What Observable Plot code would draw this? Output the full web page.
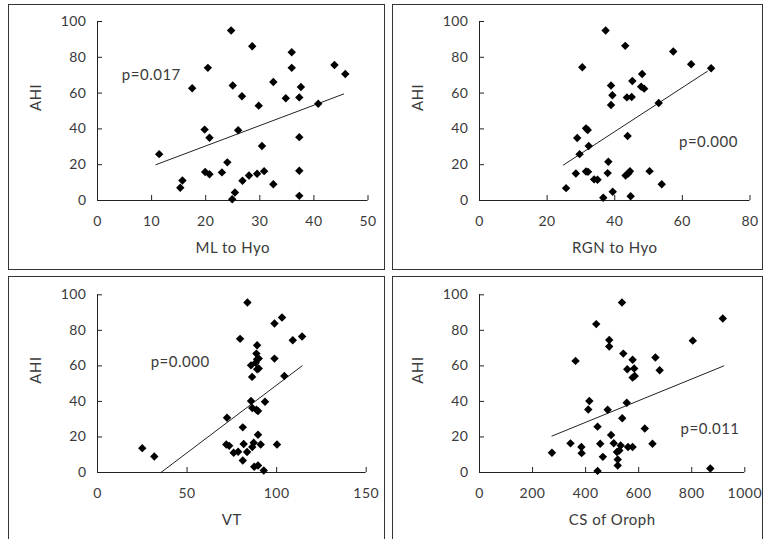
<!DOCTYPE html>
<html>
<head>
<meta charset="utf-8">
<script src="https://cdn.jsdelivr.net/npm/d3@7"></script>
<script src="https://cdn.jsdelivr.net/npm/@observablehq/plot@0.6"></script>
<style>
  html, body { margin: 0; padding: 0; background: #fff; width: 763px; height: 539px; overflow: hidden; }
  .panel { position: absolute; border: 1px solid #333; background: #fff; overflow: hidden; }
  .panel svg { display: block; }
</style>
</head>
<body>
<div id="p1" class="panel" style="left:8px; top:4px; width:375px; height:264px;"></div>
<div id="p2" class="panel" style="left:392px; top:4px; width:369px; height:264px;"></div>
<div id="p3" class="panel" style="left:8px; top:276px; width:375px; height:264px;"></div>
<div id="p4" class="panel" style="left:392px; top:276px; width:369px; height:264px;"></div>
<script>
// ---- Data ----
const yLabel = "AHI";
const yTicks = [0, 20, 40, 60, 80, 100];

// Panel 1: ML to Hyo
const mlX = [11.4,15.3,15.7,17.5,19.8,20.4,19.9,20.7,20.7,23.0,24.0,24.7,25.0,24.9,25.4,26.0,26.7,26.8,28.0,28.6,29.5,29.8,30.4,30.8,32.5,32.5,34.8,35.9,35.9,37.3,37.3,37.3,37.6,37.3,40.8,43.8,45.8];
const mlY = [25.9,7.1,11.2,62.7,39.6,74.1,15.9,14.7,35.1,15.7,21.3,95.0,64.2,0.7,4.5,39.2,58.2,11.0,14.0,86.2,14.9,53.0,30.4,16.4,66.2,9.1,57.1,82.8,74.1,35.4,16.6,57.6,63.4,2.6,54.1,75.7,70.7];
const mlTrendX = [10.8, 45.5];
const mlTrendY = [20.0, 59.5];
const mlTicks = [0, 10, 20, 30, 40, 50];
const mlP = {text: "p=0.017", x: 4.5, y: 70};

// Panel 2: RGN to Hyo
const rgnX = [25.6,28.5,28.9,29.6,30.4,31.5,32.0,31.5,32.1,32.3,33.9,34.9,36.6,37.3,37.9,38.1,38.9,39.3,38.9,39.4,43.1,43.6,43.8,43.2,44.0,44.5,44.7,45.0,45.2,48.1,47.8,48.7,50.3,53.0,53.9,57.3,62.6,68.5];
const rgnY = [6.9,15.1,34.9,25.9,74.4,40.3,39.4,16.2,16.0,30.4,11.8,11.6,1.5,95.0,15.3,21.6,64.2,58.8,53.4,4.9,86.4,57.6,36.0,14.0,15.1,16.4,2.4,57.8,66.8,70.7,63.6,62.5,16.4,54.5,9.1,83.2,76.1,73.9];
const rgnTrendX = [24.8, 67.4];
const rgnTrendY = [19.8, 72.2];
const rgnTicks = [0, 20, 40, 60, 80];
const rgnP = {text: "p=0.000", x: 59, y: 32.5};

// Panel 3: VT
const vtX = [25.0,31.7,72.3,71.9,73.5,76.0,78.5,79.6,83.7,81.1,81.6,81.1,83.5,85.7,86.3,85.7,86.4,86.4,87.2,87.5,88.3,89.1,88.7,89.1,89.1,90.0,90.0,88.7,89.6,89.6,89.6,91.1,92.8,93.5,98.8,98.8,100.2,103.0,104.3,109.0,114.2];
const vtY = [13.7,9.0,30.8,15.8,15.0,11.1,11.7,75.2,95.7,25.4,16.0,6.8,11.5,60.3,53.8,40.2,36.3,14.3,16.7,3.2,61.8,71.6,66.9,58.1,63.7,64.1,58.5,35.3,34.6,21.2,3.9,15.8,1.1,39.8,83.8,64.1,15.8,87.2,54.3,74.4,76.5];
const vtTrendX = [35.4, 114.2];
const vtTrendY = [0, 60.0];
const vtTicks = [0, 50, 100, 150];
const vtP = {text: "p=0.000", x: 29.7, y: 61.8};

// Panel 4: CS of Oroph
const csX = [273,343,362,384,385,414,410,440,445,445,455,465,483,489,489,496,506,518,521,521,527,532,537,538,542,557,555,560,577,577,583,577,585,623,652,663,679,804,870,917];
const csY = [11.1,16.4,62.8,14.3,10.9,40.2,35.5,83.5,25.8,0.9,16.2,8.8,35.3,74.6,70.9,21.1,16.5,11.5,7.3,3.9,12.4,15.2,95.7,30.5,66.9,58.1,39.3,14.3,63.5,14.3,58.5,53.4,54.3,24.8,16.2,64.7,57.5,74.2,2.3,86.7];
const csTrendX = [273, 921];
const csTrendY = [20.5, 60.0];
const csTicks = [0, 200, 400, 600, 800, 1000];
const csP = {text: "p=0.011", x: 758, y: 24.2};

const FONT = "Lato, 'Open Sans', sans-serif";
const INK = "#222";
const TXT = "#3a3a3a";

function panel({xs, ys, tx, ty, ticks, xLabel, p, width, marginLeft, marginRight, marginTop}) {
  const pts = xs.map((x, i) => ({x, y: ys[i]}));
  const trend = tx.map((x, i) => ({x, y: ty[i]}));
  const height = 264;
  const fmt = d3.format("d");
  return Plot.plot({
    width, height,
    marginLeft, marginRight, marginTop, marginBottom: 69,
    style: {fontFamily: FONT, fontSize: "14px", color: TXT, background: "#fff", letterSpacing: "0.5px"},
    x: {domain: [ticks[0], ticks[ticks.length - 1]], axis: null},
    y: {domain: [0, 100], axis: null},
    marks: [
      // tick labels
      Plot.axisX({ticks, tickSize: 0, tickPadding: 16, tickFormat: fmt, label: null, fontSize: 14, fill: TXT}),
      Plot.axisY({ticks: yTicks, tickSize: 0, tickPadding: 11, tickFormat: fmt, label: null, fontSize: 14, fill: TXT}),
      // inward tick marks
      Plot.axisX({ticks, tickSize: 5, dy: -5, tickFormat: () => "", label: null, stroke: INK}),
      Plot.axisY({ticks: yTicks, tickSize: 5, dx: 5, tickFormat: () => "", label: null, stroke: INK}),
      // axis lines
      Plot.ruleY([0], {stroke: INK, strokeWidth: 1}),
      Plot.ruleX([ticks[0]], {stroke: INK, strokeWidth: 1}),
      // axis titles
      Plot.text([xLabel], {frameAnchor: "bottom", dy: 52, fontSize: 15, fill: TXT}),
      Plot.text([yLabel], {frameAnchor: "left", dx: -61, rotate: -90, fontSize: 15, fill: TXT}),
      // trend line
      Plot.line(trend, {x: "x", y: "y", stroke: INK, strokeWidth: 1}),
      // points
      Plot.dot(pts, {x: "x", y: "y", symbol: "diamond2", r: 3.8, fill: "#000", stroke: "none"}),
      // p value
      Plot.text([p], {x: "x", y: "y", text: "text", textAnchor: "start", fontSize: 15, fill: TXT})
    ]
  });
}

document.getElementById("p1").append(panel({xs: mlX, ys: mlY, tx: mlTrendX, ty: mlTrendY, ticks: mlTicks, xLabel: "ML to Hyo", p: mlP, width: 375, marginLeft: 88, marginRight: 16.5, marginTop: 16}));
document.getElementById("p2").append(panel({xs: rgnX, ys: rgnY, tx: rgnTrendX, ty: rgnTrendY, ticks: rgnTicks, xLabel: "RGN to Hyo", p: rgnP, width: 369, marginLeft: 86, marginRight: 12.5, marginTop: 16}));
document.getElementById("p3").append(panel({xs: vtX, ys: vtY, tx: vtTrendX, ty: vtTrendY, ticks: vtTicks, xLabel: "VT", p: vtP, width: 375, marginLeft: 88, marginRight: 18.3, marginTop: 17.3}));
document.getElementById("p4").append(panel({xs: csX, ys: csY, tx: csTrendX, ty: csTrendY, ticks: csTicks, xLabel: "CS of Oroph", p: csP, width: 369, marginLeft: 86, marginRight: 17.7, marginTop: 17.3}));
</script>
</body>
</html>
